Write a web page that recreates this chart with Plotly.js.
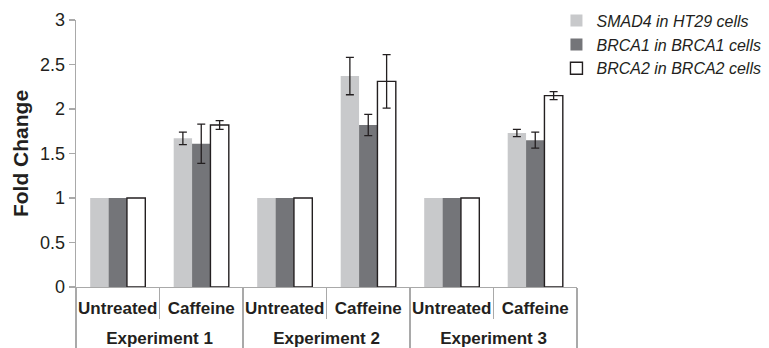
<!DOCTYPE html>
<html>
<head>
<meta charset="utf-8">
<script src="https://cdn.plot.ly/plotly-3.0.1.min.js"></script>
<style>html,body{margin:0;padding:0;background:#fff;}#chart{width:769px;height:348px;}</style>
</head>
<body>
<div id="chart"></div>
<script>
const experiments = ["Experiment 1", "Experiment 1", "Experiment 2", "Experiment 2", "Experiment 3", "Experiment 3"];
const treatments = ["Untreated", "Caffeine", "Untreated", "Caffeine", "Untreated", "Caffeine"];
const seriesNames = ["SMAD4 in HT29 cells", "BRCA1 in BRCA1 cells", "BRCA2 in BRCA2 cells"];
const smad4 = [1, 1.67, 1, 2.37, 1, 1.73];
const smad4Err = [0, 0.07, 0, 0.21, 0, 0.04];
const brca1 = [1, 1.61, 1, 1.82, 1, 1.65];
const brca1Err = [0, 0.22, 0, 0.12, 0, 0.09];
const brca2 = [1, 1.82, 1, 2.31, 1, 2.15];
const brca2Err = [0, 0.05, 0, 0.30, 0, 0.045];
const yTicks = [0, 0.5, 1, 1.5, 2, 2.5, 3];

const FONT = "Arial, 'Liberation Sans', Helvetica, sans-serif";
const TXT = "#231f20";

// untreated bars have no error bar: drop zero entries so no cap is drawn
function errOpts(arr) {
  return {type: "data", array: arr.map(v => (v > 0 ? v : NaN)), visible: true,
          color: "#231f20", thickness: 1.3, width: 4};
}

// taller blank padding around the treatment labels opens room between the two label rows
const PADSP = "<span style='font-size:30px'>&nbsp;</span>";
const treatmentLabels = treatments.map(t => PADSP + t + PADSP);
const xcats = [experiments, treatmentLabels];
const traces = [
  {type: "bar", name: seriesNames[0], x: xcats, y: smad4,
   error_y: errOpts(smad4Err), marker: {color: "#c8c9cb", line: {width: 0}}},
  {type: "bar", name: seriesNames[1], x: xcats, y: brca1,
   error_y: errOpts(brca1Err), marker: {color: "#747579", line: {width: 0}}},
  {type: "bar", name: seriesNames[2], x: xcats, y: brca2,
   error_y: errOpts(brca2Err), marker: {color: "#ffffff", line: {color: "#231f20", width: 1.4}}}
];

const layout = {
  width: 769, height: 348,
  margin: {l: 76, r: 192, t: 20, b: 61, pad: 0, autoexpand: false},
  paper_bgcolor: "#fff", plot_bgcolor: "#fff",
  barmode: "group", bargap: 0.34, bargroupgap: 0,
  font: {family: FONT, color: TXT, size: 17},
  showlegend: true,
  legend: {x: 0.959, y: 1.061, xanchor: "left", yanchor: "top",
           font: {family: FONT, size: 16, color: TXT, style: "italic"},
           tracegroupgap: 0, itemwidth: 30, bgcolor: "rgba(0,0,0,0)"},
  xaxis: {type: "multicategory", tickangle: 0, showline: true, linecolor: "#a9a9a9", linewidth: 1.3,
          ticks: "outside", tickson: "boundaries", ticklen: 31, tickcolor: "#a9a9a9", tickwidth: 1.3,
          ticklabelstandoff: 5,
          showdividers: true, dividercolor: "#a9a9a9", dividerwidth: 1.3,
          tickfont: {family: FONT, size: 17, color: TXT, weight: "bold"},
          showgrid: false, zeroline: false},
  yaxis: {range: [0, 3], tickvals: yTicks, ticktext: yTicks.map(String),
          showline: true, linecolor: "#a9a9a9", linewidth: 1.3,
          ticks: "outside", ticklen: 6, tickcolor: "#a9a9a9", tickwidth: 1.3,
          tickfont: {family: FONT, size: 18, color: TXT},
          showgrid: false, zeroline: false,
          title: {text: "Fold Change", font: {family: FONT, size: 21, color: TXT, weight: "bold"}, standoff: 5}}
};

Plotly.newPlot("chart", traces, layout, {displayModeBar: false, staticPlot: true});
</script>
</body>
</html>
